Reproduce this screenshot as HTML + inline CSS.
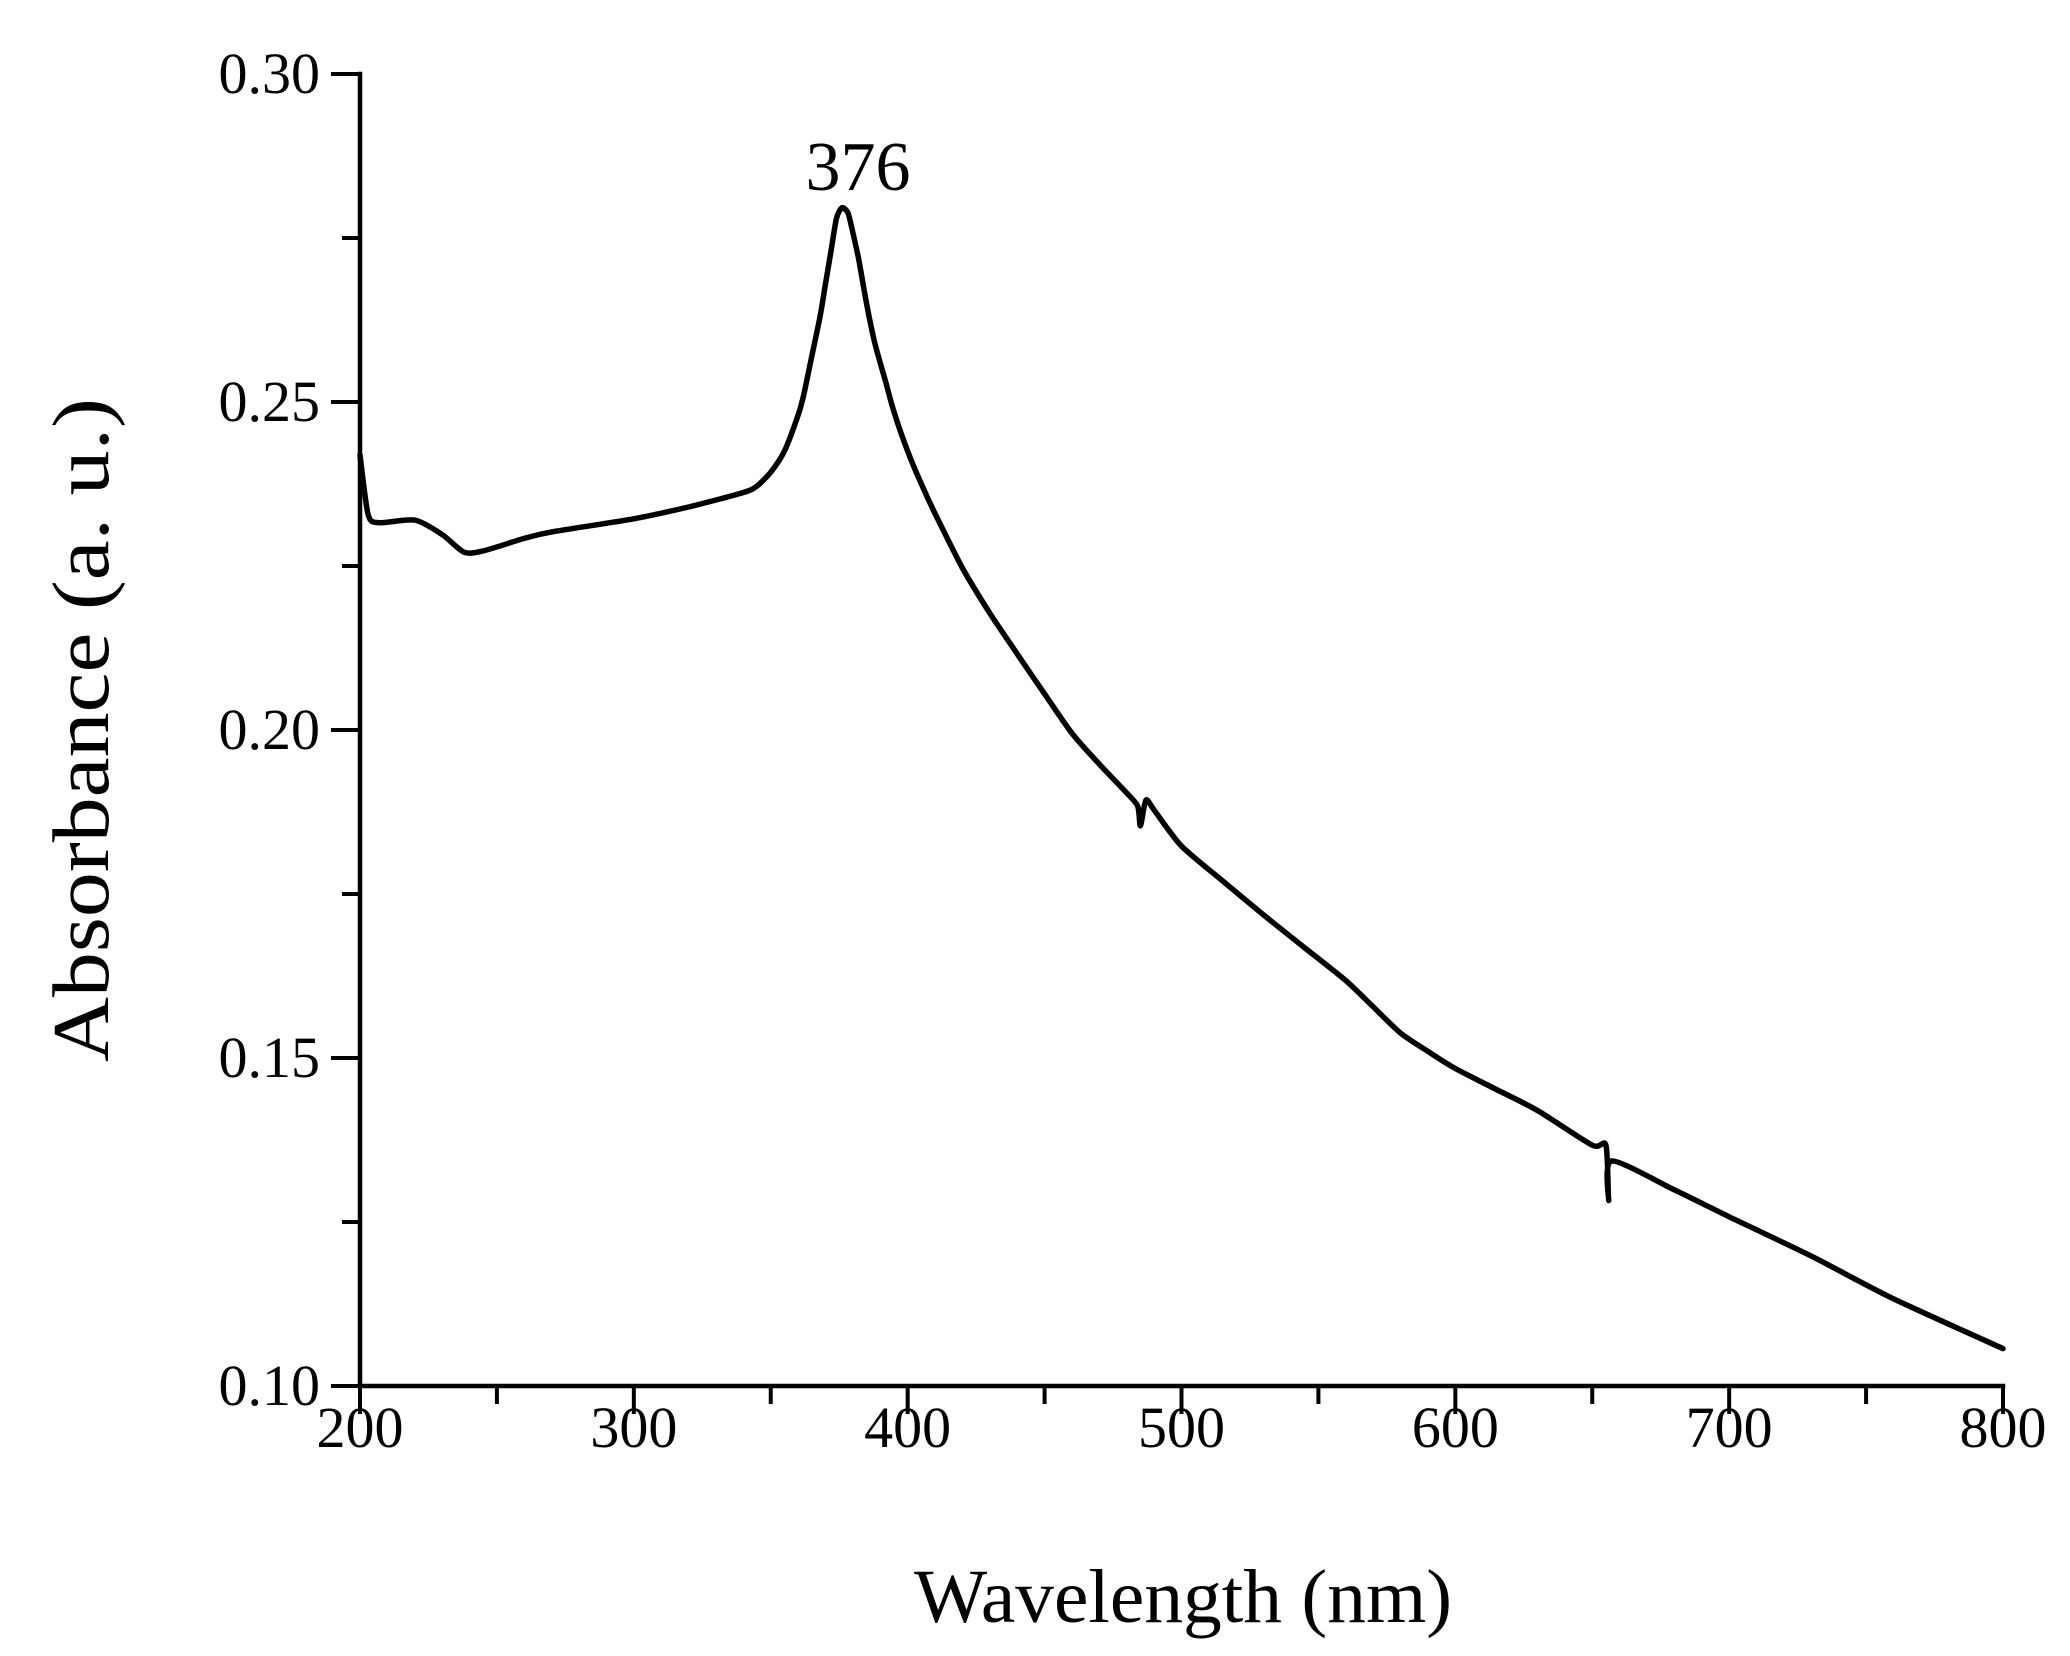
<!DOCTYPE html>
<html><head><meta charset="utf-8"><style>
html,body{margin:0;padding:0;background:#fff;}
svg{display:block;}
text{font-family:"Liberation Serif",serif;fill:#000;}
</style></head><body>
<svg id="chart" width="2070" height="1656" viewBox="0 0 2070 1656" xmlns="http://www.w3.org/2000/svg">
<g id="axes"></g>
<path id="curve" fill="none" stroke="#000" stroke-width="5.5" stroke-linejoin="round" stroke-linecap="round"></path>
<text x="858" y="190" font-size="70" text-anchor="middle">376</text>
<text x="1183" y="1622" font-size="76" text-anchor="middle" textLength="538" lengthAdjust="spacingAndGlyphs">Wavelength (nm)</text>
<text transform="translate(108,730) rotate(-90)" font-size="80" text-anchor="middle" textLength="664" lengthAdjust="spacingAndGlyphs">Absorbance (a. u.)</text>
</svg>
<script>
const wavelengths = [200,203,207,220,230,238,245,260,270,300,320,340,345,350,355,360,362,365,368,370,372,374,376,378,379,382,385,388,392,395,400,405,410,420,430,440,450,460,470,480,484,485,487,490,500,515,530,545,560,570,580,590,600,615,630,650,655,656,657,680,700,730,760,800];
const absorbance = [0.2419,0.2328,0.2316,0.232,0.2298,0.2271,0.2273,0.2292,0.2302,0.2322,0.234,0.2362,0.2372,0.2393,0.2425,0.248,0.251,0.257,0.263,0.268,0.273,0.278,0.2796,0.279,0.2776,0.272,0.265,0.259,0.253,0.2485,0.2425,0.2375,0.233,0.2247,0.2178,0.2116,0.2055,0.1995,0.1948,0.1904,0.1884,0.1854,0.1893,0.1878,0.1823,0.177,0.1718,0.1668,0.1618,0.1578,0.1538,0.151,0.1484,0.1452,0.142,0.1367,0.1367,0.1283,0.1343,0.1299,0.1258,0.1198,0.1133,0.1057];
const xTicks = [200,300,400,500,600,700,800];
const yTicks = [0.10,0.15,0.20,0.25,0.30];
const yTickLabels = ["0.10","0.15","0.20","0.25","0.30"];

const X0=360,X1=2003,Y0=1386,Y1=74;
const sx = v => X0 + (v-200)/600*(X1-X0);
const sy = v => Y0 - (v-0.10)/0.20*(Y0-Y1);
const NS="http://www.w3.org/2000/svg";
const axes=document.getElementById('axes');
function line(x1,y1,x2,y2,w){const l=document.createElementNS(NS,'line');l.setAttribute('x1',x1);l.setAttribute('y1',y1);l.setAttribute('x2',x2);l.setAttribute('y2',y2);l.setAttribute('stroke','#000');l.setAttribute('stroke-width',w);l.setAttribute('stroke-linecap','square');axes.appendChild(l);return l;}
let a=line(X0,Y0,X0,Y1,4.5);


a=line(X0,Y0,X1,Y0,4.5);


for(let v=200;v<=800;v+=50){const major=v%100===0;const t=line(sx(v),Y0,sx(v),Y0+(major?26:16),4);

}
for(let i=0;i<=8;i++){const v=0.10+i*0.025;const major=i%2===0;const t=line(X0,sy(v),X0-(major?27:16),sy(v),4);

}
xTicks.forEach(v=>{const t=document.createElementNS(NS,'text');t.setAttribute('x',sx(v));t.setAttribute('y',1447);t.setAttribute('font-size','58');t.setAttribute('text-anchor','middle');t.textContent=String(v);


axes.appendChild(t);});
yTicks.forEach((v,i)=>{const t=document.createElementNS(NS,'text');t.setAttribute('x',320);t.setAttribute('y',sy(v)+19);t.setAttribute('font-size','58');t.setAttribute('text-anchor','end');t.textContent=yTickLabels[i];


axes.appendChild(t);});
const pts=wavelengths.map((w,i)=>[sx(w),sy(absorbance[i])]);
let d='M'+pts[0][0].toFixed(1)+' '+pts[0][1].toFixed(1);
for(let i=0;i<pts.length-1;i++){
  const p0=pts[Math.max(0,i-1)],p1=pts[i],p2=pts[i+1],p3=pts[Math.min(pts.length-1,i+2)];
  const k=1/8;
  const c1=[p1[0]+(p2[0]-p0[0])*k,p1[1]+(p2[1]-p0[1])*k];
  const c2=[p2[0]-(p3[0]-p1[0])*k,p2[1]-(p3[1]-p1[1])*k];
  d+=' C'+c1[0].toFixed(1)+' '+c1[1].toFixed(1)+' '+c2[0].toFixed(1)+' '+c2[1].toFixed(1)+' '+p2[0].toFixed(1)+' '+p2[1].toFixed(1);
}
document.getElementById('curve').setAttribute('d',d);
</script>
</body></html>
